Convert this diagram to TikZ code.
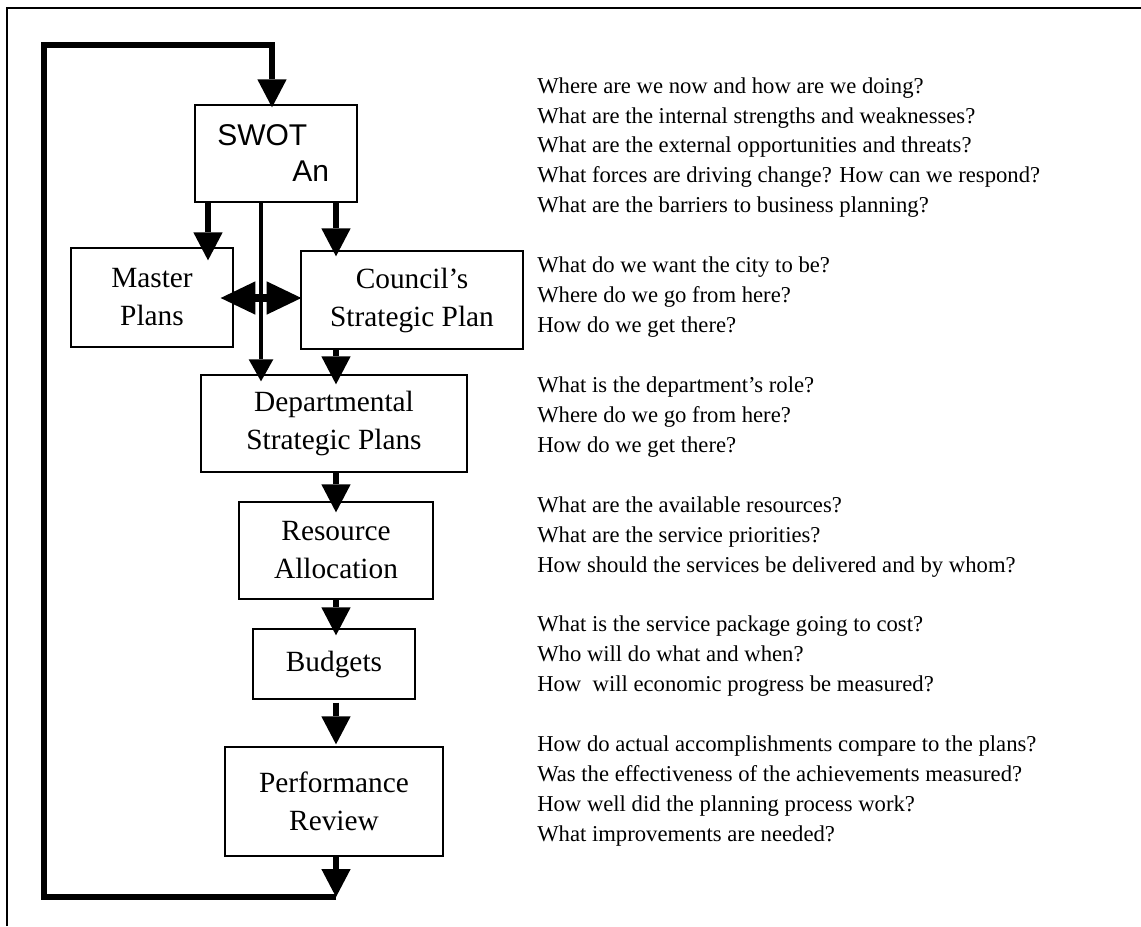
\documentclass[tikz,border=0pt]{standalone}
\usepackage{fontspec}
\setmainfont{Liberation Serif}
\newfontfamily\swotfont{Liberation Sans}
\usetikzlibrary{arrows.meta}

\begin{document}
\begin{tikzpicture}[x=0.75pt,y=-0.75pt,
  stage/.style={draw, line width=1pt, inner sep=0pt, align=center,
    font=\fontsize{22}{28.5}\selectfont},
  swottext/.style={anchor=base west, inner sep=0pt,
    font=\swotfont\fontsize{22.5}{27}\selectfont},
  question/.style={anchor=base west, inner sep=0pt, align=left,
    font=\fontsize{17}{22.45}\selectfont},
  bigtip/.style={-{Triangle[width=22pt,length=21pt,line width=0pt]}},
  flow/.style={line width=4.5pt, bigtip},
  thinflow/.style={line width=3.4pt, -{Triangle[width=18.5pt,length=16.5pt,line width=0pt]}},
  both/.style={line width=6pt, {Triangle[width=25pt,length=26pt,line width=0pt]}-{Triangle[width=25pt,length=26pt,line width=0pt]}},
  loopline/.style={line width=4.5pt, line join=miter, bigtip},
]
\useasboundingbox (0,0) rectangle (1141,926);

% outer frame (top and left edges)
\draw[line width=1.5pt] (7,926) -- (7,8) -- (1141,8);

% process boxes
\node[stage, minimum width=121.5pt, minimum height=72.75pt] (swot) at (276,153.5) {};
\node[swottext] (swotA) at (217,145) {SWOT};
\node[swottext] (swotB) at (292,181) {An};

\node[stage, minimum width=121.5pt, minimum height=74.25pt] (master) at (152,297.5) {Master\\Plans};
\node[stage, minimum width=166.5pt, minimum height=73.5pt] (council) at (412,300) {Council’s\\Strategic Plan};
\node[stage, minimum width=199.5pt, minimum height=72.75pt] (dept) at (334,423.5) {Departmental\\Strategic Plans};
\node[stage, minimum width=145.5pt, minimum height=72.75pt] (resource) at (336,550.5) {Resource\\Allocation};
\node[stage, minimum width=121.5pt, minimum height=52.5pt] (budgets) at (334,664) {Budgets};
\node[stage, minimum width=163.5pt, minimum height=81.75pt] (perf) at (334,801.5) {Performance\\Review};

% columns and corners of the connectors
\coordinate (xl) at (208,0);
\coordinate (xm) at (261,0);
\coordinate (xr) at (336,0);
\coordinate (xs) at (272,0);
\coordinate (lb) at (44,897);
\coordinate (lt) at (44,45);

% connectors
\draw[flow, shorten >=-9.75pt] (swot.south -| xl) -- (master.north -| xl);
\draw[flow, shorten >=-4.5pt] (swot.south -| xr) -- (council.north -| xr);
\draw[thinflow, shorten >=-5.25pt] (swot.south -| xm) -- (dept.north -| xm);
\draw[both, shorten <=-9.75pt, shorten >=-0.75pt] (master.east |- 0,298) -- (council.west |- 0,298);
\draw[flow, shorten >=-7.5pt] (council.south -| xr) -- (dept.north -| xr);
\draw[flow, shorten >=-8.25pt] (dept.south -| xr) -- (resource.north -| xr);
\draw[flow, shorten >=-5.25pt] (resource.south -| xr) -- (budgets.north -| xr);
\draw[flow, shorten <=2.25pt, shorten >=1.5pt] (budgets.south -| xr) -- (perf.north -| xr);
\draw[flow] (perf.south -| xr) -- (xr |- lb);
\draw[loopline, shorten >=-2.25pt] (xr |- lb) -- (lb) -- (lt) -- (lt -| xs) -- (swot.north -| xs);

% guiding questions (each node sits on the baseline of its last line)
\node[question] (q1) at (537,212.8) {Where are we now and how are we doing?\\
What are the internal strengths and weaknesses?\\
What are the external opportunities and threats?\\
What forces are driving change? How can we respond?\\
What are the barriers to business planning?};
\node[question] (q2) at (537,332.5) {What do we want the city to be?\\
Where do we go from here?\\
How do we get there?};
\node[question] (q3) at (537,452.3) {What is the department’s role?\\
Where do we go from here?\\
How do we get there?};
\node[question] (q4) at (537,572.1) {What are the available resources?\\
What are the service priorities?\\
How should the services be delivered and by whom?};
\node[question] (q5) at (537,691.8) {What is the service package going to cost?\\
Who will do what and when?\\
How\ \ will economic progress be measured?};
\node[question] (q6) at (537,841.5) {How do actual accomplishments compare to the plans?\\
Was the effectiveness of the achievements measured?\\
How well did the planning process work?\\
What improvements are needed?};
\end{tikzpicture}
\end{document}
